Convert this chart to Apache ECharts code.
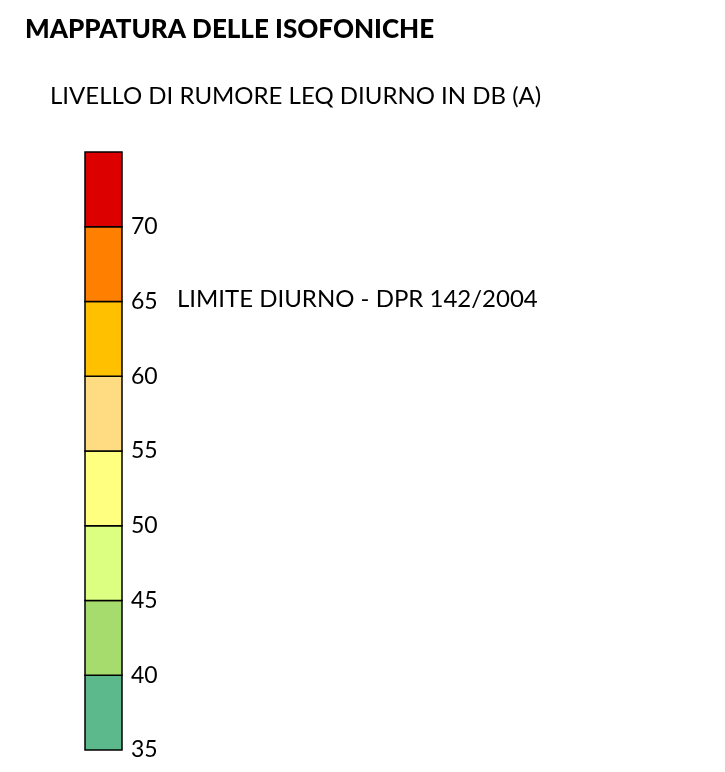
<!DOCTYPE html>
<html>
<head>
<meta charset="utf-8">
<script src="https://cdn.jsdelivr.net/npm/echarts@6/dist/echarts.min.js"></script>
<style>
  html, body { margin: 0; padding: 0; background: #fff; }
  #chart { width: 725px; height: 772px; }
</style>
</head>
<body>
<div id="chart"></div>
<script>
// class boundaries in dB(A), bottom to top
const levels = [35, 40, 45, 50, 55, 60, 65, 70, 75];
const bandColors = ['#5bb98c', '#a6dc6e', '#dcff82', '#ffff80', '#ffdc82', '#ffc000', '#ff8000', '#dc0000'];
const tickLabels = ['35', '40', '45', '50', '55', '60', '65', '70'];
const limitValue = 65;
const limitText = 'LIMITE DIURNO - DPR 142/2004';

const bands = bandColors.map(function (c, i) {
    return [0, levels[i], levels[i + 1]];
});

const font = 'Lato, "Noto Sans", sans-serif';
const chart = echarts.init(document.getElementById('chart'), null, {renderer: 'canvas'});

const option = {
    backgroundColor: '#fff',
    animation: false,
    title: [
        {
            text: 'MAPPATURA DELLE ISOFONICHE',
            left: 20, top: 12,
            textStyle: {fontFamily: font, fontWeight: 900, fontSize: 26, color: '#000'}
        },
        {
            text: 'LIVELLO DI RUMORE LEQ DIURNO IN DB (A)',
            left: 45, top: 79,
            textStyle: {fontFamily: font, fontWeight: 'normal', fontSize: 24, color: '#000'}
        }
    ],
    grid: {left: 85, top: 152, width: 37, bottom: 22},
    xAxis: {
        type: 'category',
        data: ['dB'],
        show: false
    },
    yAxis: {
        type: 'value',
        position: 'right',
        min: 35, max: 75, interval: 5,
        axisLine: {show: false},
        axisTick: {show: false},
        splitLine: {show: false},
        axisLabel: {
            margin: 9,
            fontFamily: font,
            fontSize: 23,
            color: '#000',
            formatter: function (v) {
                return tickLabels.indexOf(String(v)) >= 0 ? String(v) : '';
            }
        }
    },
    series: [
        {
            type: 'custom',
            data: bands,
            renderItem: function (params, api) {
                const lo = api.coord([api.value(0), api.value(1)]);
                const hi = api.coord([api.value(0), api.value(2)]);
                const w = api.size([1, 0])[0];
                return {
                    type: 'rect',
                    shape: {x: lo[0] - w / 2, y: hi[1], width: w, height: lo[1] - hi[1]},
                    style: {fill: bandColors[params.dataIndex], stroke: '#000', lineWidth: 1.5}
                };
            },
            encode: {x: 0, y: [1, 2]}
        }
    ]
};

chart.setOption(option);

// place the limit caption at the 65 dB level
const yPix = chart.convertToPixel({yAxisIndex: 0}, limitValue);
chart.setOption({
    graphic: [{
        type: 'text',
        left: 177,
        top: yPix - 14,
        style: {text: limitText, fontFamily: font, fontSize: 24, fill: '#000'}
    }]
});
</script>
</body>
</html>
